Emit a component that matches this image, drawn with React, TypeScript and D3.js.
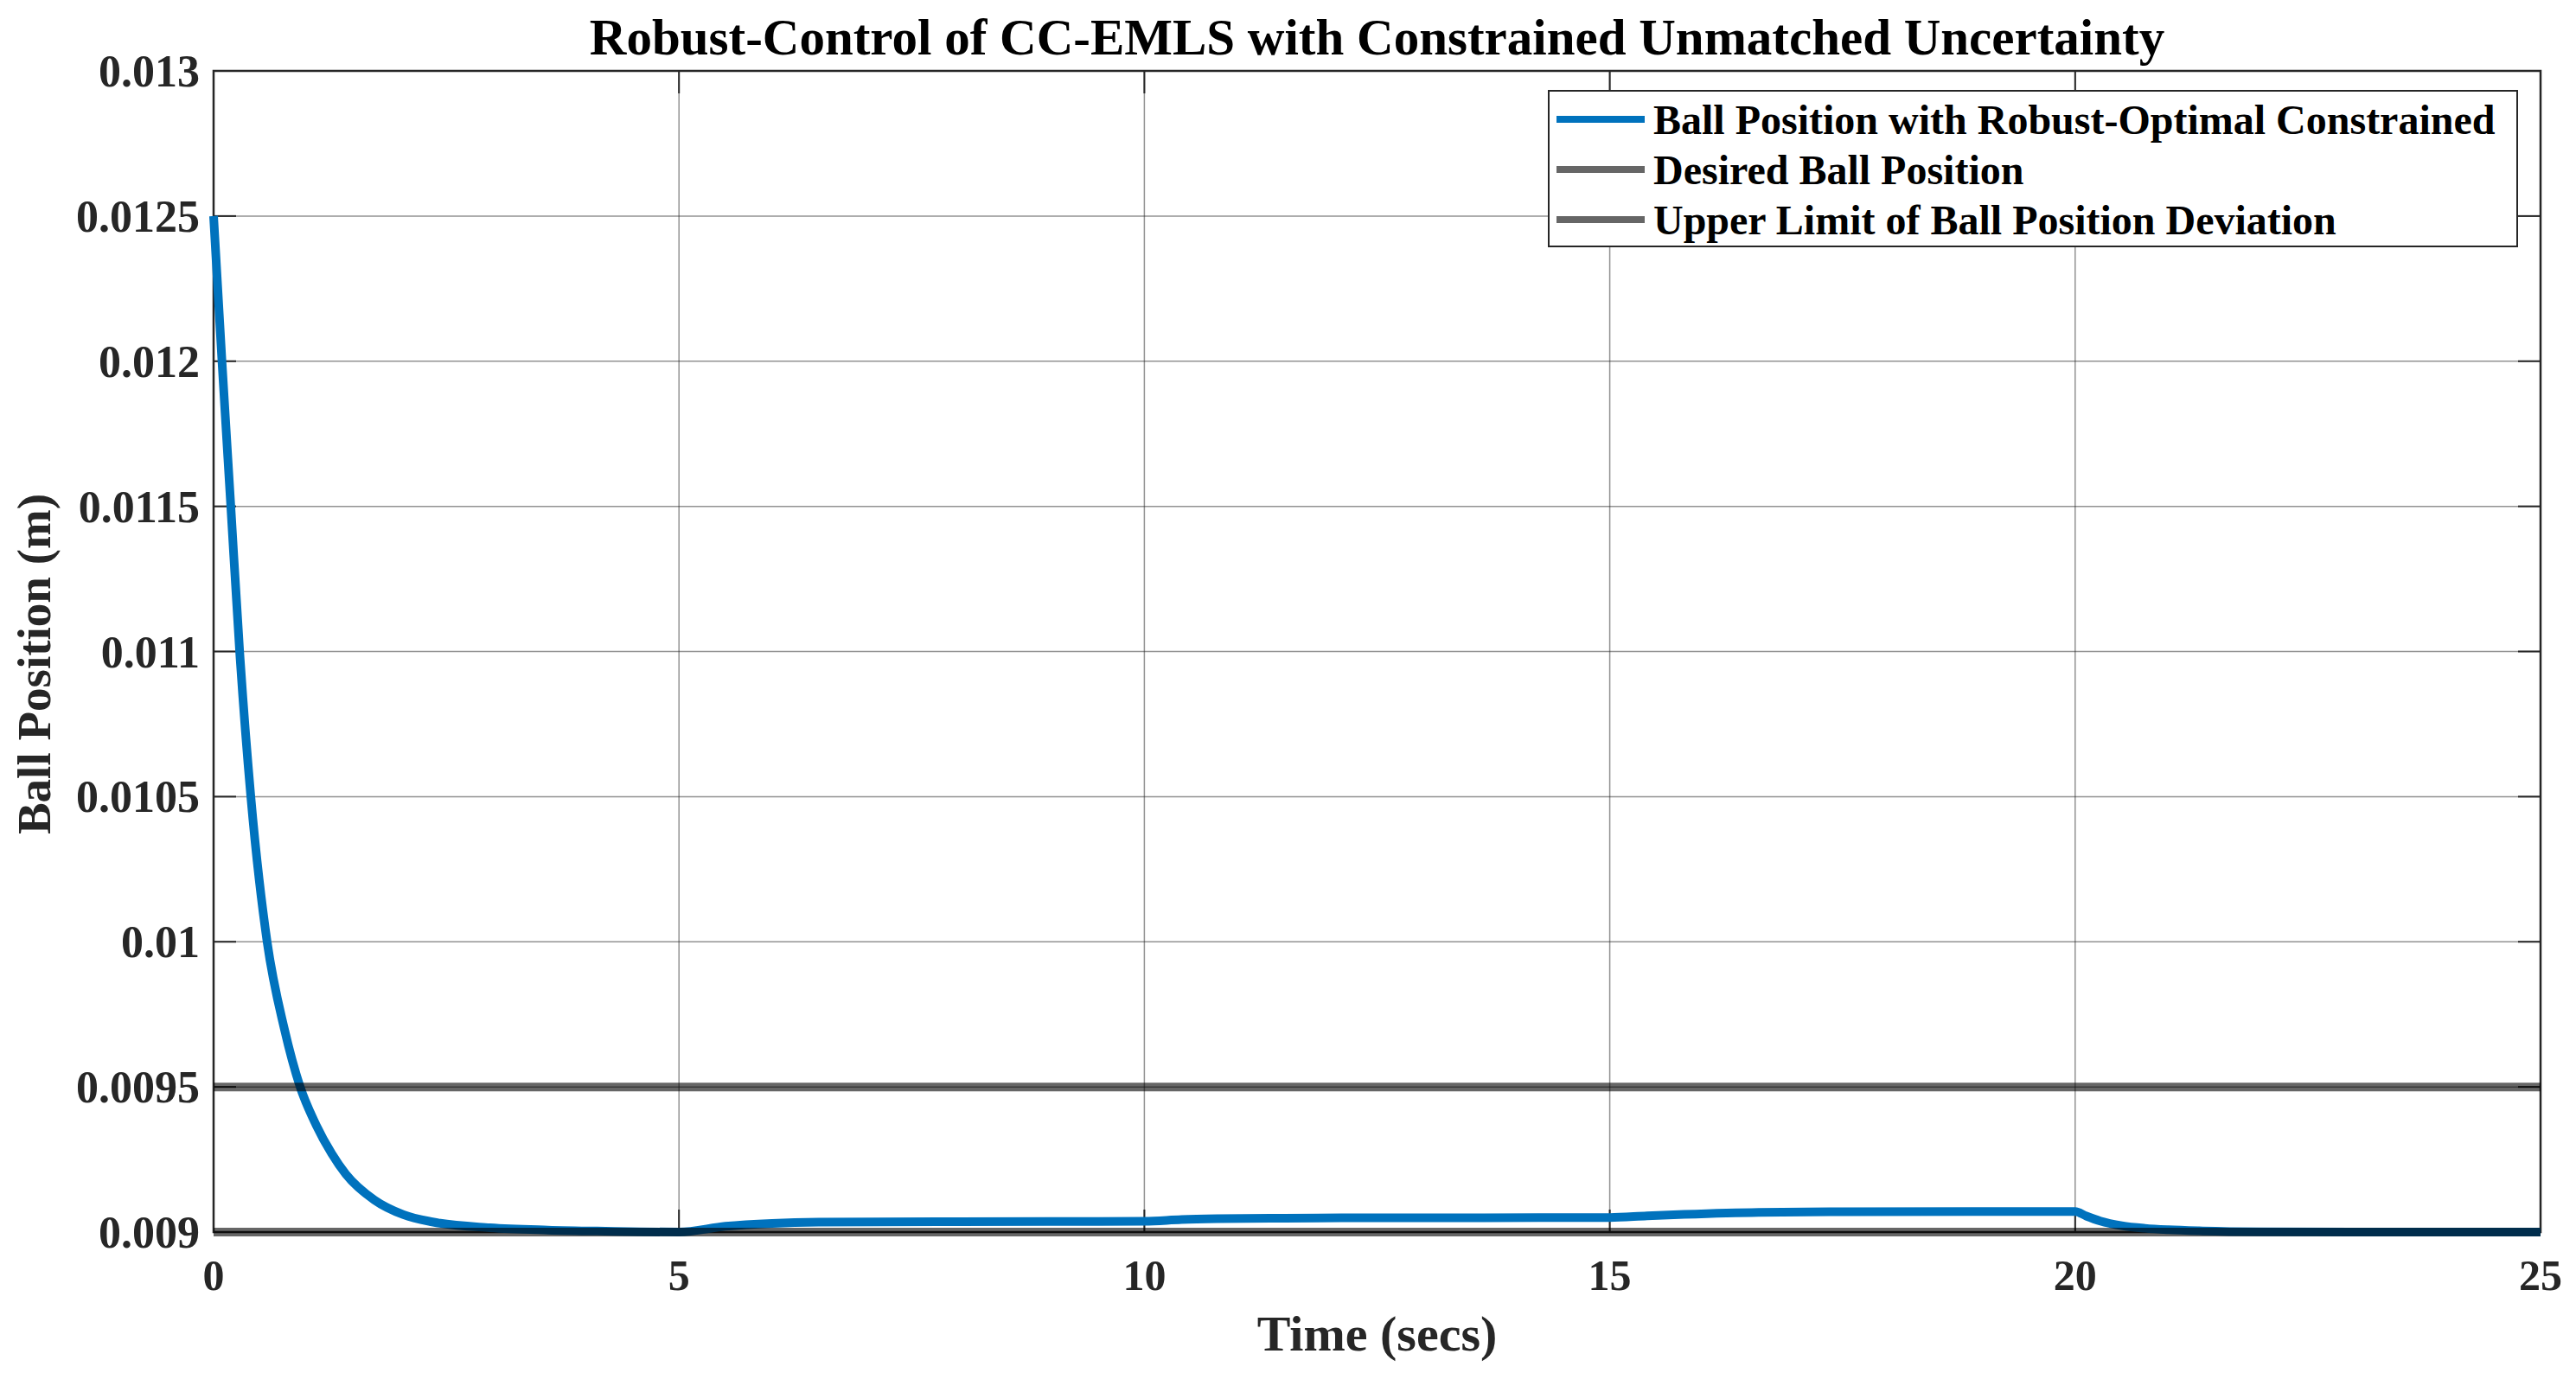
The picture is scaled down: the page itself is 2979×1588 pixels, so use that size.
import * as d3 from "d3";
import React from "react";

// values
const timeSec = [
  0, 0.09, 0.185, 0.28, 0.4, 0.575, 0.76, 0.93, 1.1, 1.27, 1.42, 1.73, 2.04, 2.35, 2.97, 3.59, 4.21, 5.0,
  5.5, 6.0, 6.5, 8.0, 10.0, 10.4, 10.8, 11.5, 12.3, 15.0, 15.4, 15.8, 16.6, 17.5, 18.9, 20.0,
  20.12, 20.27, 20.5, 20.75, 21.0, 21.37, 22.0, 23.0, 25.0,
];
const ballPosition = [
  0.0125, 0.012, 0.0115, 0.011, 0.0105, 0.01, 0.0097, 0.0095, 0.00937, 0.00927, 0.0092, 0.00911, 0.00906, 0.009035,
  0.009015, 0.009007, 0.009003, 0.009, 0.00902, 0.00903, 0.009034, 0.009036, 0.009037, 0.009043, 0.009046, 0.009048,
  0.009049, 0.00905, 0.009056, 0.009061, 0.009068, 0.00907, 0.009071, 0.009071, 0.009055, 0.009038, 0.009022,
  0.009013, 0.009008, 0.009004, 0.009001, 0.009, 0.009,
];
const desiredPosition = 0.009;
const upperLimit = 0.0095;

const xTicks = [0, 5, 10, 15, 20, 25];
const yTicks = [0.009, 0.0095, 0.01, 0.0105, 0.011, 0.0115, 0.012, 0.0125, 0.013];
const yTickLabels = ["0.009", "0.0095", "0.01", "0.0105", "0.011", "0.0115", "0.012", "0.0125", "0.013"];

const legendNames = [
  "Ball Position with Robust-Optimal Constrained",
  "Desired Ball Position",
  "Upper Limit of Ball Position Deviation",
];
const legendColors = ["#0072BD", "#666666", "#666666"];

const W = 2979;
const H = 1588;
const left = 247, right = 2938, top = 82, bottom = 1425;
const font = "'Liberation Serif', 'Times New Roman', serif";
const axisColor = "#262626";

export default function App() {
  const x = d3.scaleLinear().domain([0, 25]).range([left, right]);
  const y = d3.scaleLinear().domain([0.009, 0.013]).range([bottom, top]);

  const pts = timeSec.map((t, i) => [t, ballPosition[i]] as [number, number]);
  const line = d3.line<[number, number]>()
    .x(d => x(d[0]))
    .y(d => y(d[1]))
    .curve(d3.curveMonotoneX);

  const tickLen = 26;

  return (
    <div style={{ position: "absolute", left: 0, top: 0 }}>
      <svg width={W} height={H} style={{ display: "block", background: "#fff" }}>
        {/* grid */}
        <g stroke={axisColor} strokeOpacity={0.5} strokeWidth={1.5}>
          {xTicks.slice(1, -1).map(t => (
            <line key={"gx" + t} x1={x(t)} x2={x(t)} y1={top} y2={bottom} />
          ))}
          {yTicks.slice(1, -1).map(v => (
            <line key={"gy" + v} x1={left} x2={right} y1={y(v)} y2={y(v)} />
          ))}
        </g>

        {/* ticks, inward on all four sides */}
        <g stroke={axisColor} strokeWidth={2}>
          {xTicks.map(t => (
            <g key={"tx" + t}>
              <line x1={x(t)} x2={x(t)} y1={bottom} y2={bottom - tickLen} />
              <line x1={x(t)} x2={x(t)} y1={top} y2={top + tickLen} />
            </g>
          ))}
          {yTicks.map(v => (
            <g key={"ty" + v}>
              <line x1={left} x2={left + tickLen} y1={y(v)} y2={y(v)} />
              <line x1={right} x2={right - tickLen} y1={y(v)} y2={y(v)} />
            </g>
          ))}
        </g>
        <rect x={left} y={top} width={right - left} height={bottom - top} fill="none" stroke={axisColor} strokeWidth={2.5} />

        {/* data */}
        <path d={line(pts) ?? ""} fill="none" stroke="#0072BD" strokeWidth={10} strokeLinejoin="round" />
        {[desiredPosition, upperLimit].map(v => (
          <line key={"ref" + v} x1={x(0)} x2={x(25)} y1={y(v)} y2={y(v)} stroke="#000" strokeOpacity={0.6} strokeWidth={10} />
        ))}

        {/* tick labels */}
        <g fontFamily={font} fontWeight="bold" fill={axisColor}>
          {xTicks.map(t => (
            <text key={"lx" + t} x={x(t)} y={bottom + 67} fontSize={50} textAnchor="middle">{t}</text>
          ))}
          {yTicks.map((v, i) => (
            <text key={"ly" + v} x={left - 16} y={y(v) + 18} fontSize={52} textAnchor="end">{yTickLabels[i]}</text>
          ))}
        </g>

        {/* title and axis labels */}
        <text x={(left + right) / 2} y={63} textAnchor="middle" fontFamily={font} fontWeight="bold" fontSize={59} fill="#000">
          Robust-Control of CC-EMLS with Constrained Unmatched Uncertainty
        </text>
        <text x={(left + right) / 2} y={1562} textAnchor="middle" fontFamily={font} fontWeight="bold" fontSize={58} fill={axisColor}>
          Time (secs)
        </text>
        <text transform={`translate(58,768) rotate(-90)`} textAnchor="middle" fontFamily={font} fontWeight="bold" fontSize={55} fill={axisColor}>
          Ball Position (m)
        </text>

        {/* legend */}
        <g>
          <rect x={1791} y={105} width={1120} height={180} fill="#fff" stroke={axisColor} strokeWidth={2} />
          {legendNames.map((name, i) => {
            const ry = 138 + i * 58;
            return (
              <g key={name}>
                <line x1={1800} x2={1902} y1={ry} y2={ry} stroke={legendColors[i]} strokeWidth={8} />
                <text x={1912} y={ry + 17} fontFamily={font} fontWeight="bold" fontSize={48} fill="#000">{name}</text>
              </g>
            );
          })}
        </g>
      </svg>
    </div>
  );
}
